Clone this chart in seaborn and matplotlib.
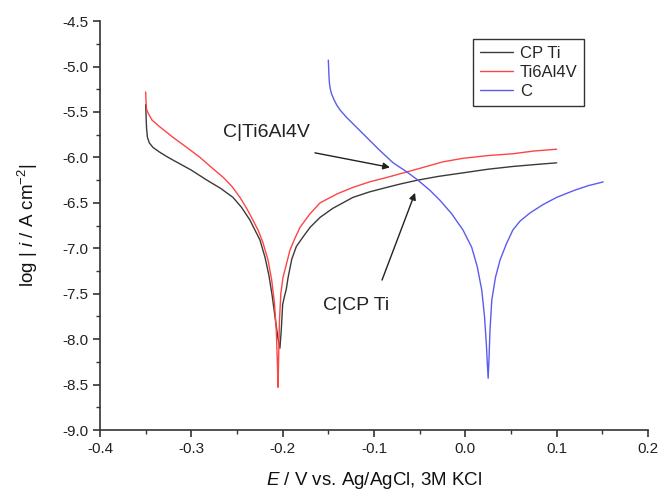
import numpy as np
import pandas as pd
import matplotlib
matplotlib.use("Agg")
import matplotlib.pyplot as plt
import seaborn as sns

# ---- data ----
cpti_E = [-0.350, -0.3495, -0.349, -0.348, -0.346, -0.342, -0.335, -0.327, -0.320,
          -0.300, -0.283, -0.268, -0.2544, -0.245, -0.2358, -0.2248, -0.2193,
          -0.215, -0.2115, -0.208, -0.205, -0.203, -0.2015, -0.200, -0.1985,
          -0.196, -0.194, -0.190, -0.185, -0.178, -0.170, -0.159, -0.145, -0.123,
          -0.105, -0.086, -0.070, -0.052, -0.030, -0.0025, 0.025, 0.052, 0.075,
          0.100]
cpti_L = [-5.42, -5.55, -5.68, -5.78, -5.84, -5.89, -5.94, -5.99, -6.03,
          -6.14, -6.25, -6.34, -6.44, -6.55, -6.69, -6.91, -7.10,
          -7.30, -7.52, -7.78, -8.00, -8.10, -7.90, -7.62, -7.55,
          -7.45, -7.32, -7.12, -6.98, -6.88, -6.77, -6.66, -6.56, -6.44,
          -6.38, -6.33, -6.29, -6.25, -6.21, -6.17, -6.13, -6.10, -6.08,
          -6.06]

ti64_E = [-0.350, -0.3495, -0.349, -0.3474, -0.343, -0.335, -0.320, -0.305, -0.2905,
          -0.278, -0.265, -0.2555, -0.2467, -0.2395, -0.2325, -0.2265, -0.2215,
          -0.216, -0.212, -0.209, -0.207, -0.2058, -0.205, -0.2044, -0.2035,
          -0.2020, -0.1996, -0.196, -0.192, -0.187, -0.181, -0.170, -0.159, -0.140,
          -0.123, -0.105, -0.0857, -0.064, -0.0496, -0.025, -0.0025, 0.025, 0.052,
          0.075, 0.100]
ti64_L = [-5.28, -5.40, -5.47, -5.51, -5.59, -5.66, -5.78, -5.89, -6.00,
          -6.11, -6.22, -6.32, -6.44, -6.56, -6.69, -6.81, -6.94,
          -7.13, -7.35, -7.60, -7.90, -8.25, -8.53, -8.20, -7.80,
          -7.50, -7.32, -7.18, -7.02, -6.90, -6.77, -6.62, -6.50, -6.40,
          -6.33, -6.27, -6.22, -6.16, -6.12, -6.05, -6.01, -5.98, -5.96,
          -5.93, -5.91]

c_E = [-0.1500, -0.1497, -0.1493, -0.1488, -0.148, -0.1465, -0.144, -0.141, -0.137,
       -0.130, -0.120, -0.108, -0.094, -0.079, -0.064, -0.052, -0.039, -0.028,
       -0.015, -0.0025, 0.007, 0.013, 0.018, 0.021, 0.023, 0.024, 0.025, 0.026,
       0.027, 0.029, 0.033, 0.038, 0.045, 0.052, 0.060, 0.071, 0.085, 0.100,
       0.120, 0.135, 0.151]
c_L = [-4.93, -5.00, -5.10, -5.18, -5.24, -5.30, -5.36, -5.42, -5.48,
       -5.56, -5.66, -5.78, -5.92, -6.06, -6.16, -6.25, -6.36, -6.47,
       -6.62, -6.80, -6.99, -7.20, -7.46, -7.75, -8.05, -8.25, -8.43, -8.20,
       -7.90, -7.57, -7.32, -7.13, -6.95, -6.80, -6.70, -6.61, -6.52, -6.44,
       -6.36, -6.31, -6.27]

series_names = ["CP Ti", "Ti6Al4V", "C"]
series_colors = ["#3a3a3a", "#ff4444", "#5b5bef"]

x_ticks = [-0.4, -0.3, -0.2, -0.1, 0.0, 0.1, 0.2]
y_ticks = [-9.0, -8.5, -8.0, -7.5, -7.0, -6.5, -6.0, -5.5, -5.0, -4.5]

# annotation texts, anchor points and arrow ends (data units)
ann_texts = ["C|Ti6Al4V", "C|CP Ti"]
ann_text_xy = [(-0.218, -5.73), (-0.12, -7.63)]
ann_tail_xy = [(-0.1646, -5.95), (-0.0912, -7.35)]
ann_head_xy = [(-0.0825, -6.11), (-0.055, -6.39)]

# ---- build table ----
frames = []
for name, E, L in zip(series_names, [cpti_E, ti64_E, c_E], [cpti_L, ti64_L, c_L]):
    frames.append(pd.DataFrame({"E": E, "logi": L, "series": name}))
df = pd.concat(frames, ignore_index=True)

sns.set_theme(style="ticks")
plt.rcParams["font.family"] = ["Liberation Sans", "DejaVu Sans"]
plt.rcParams["axes.unicode_minus"] = False
plt.rcParams["mathtext.fontset"] = "custom"
plt.rcParams["mathtext.rm"] = "Liberation Sans"
plt.rcParams["mathtext.it"] = "Liberation Sans:italic"
plt.rcParams["mathtext.default"] = "regular"

fig, ax = plt.subplots(figsize=(6.59, 4.90), dpi=100)
fig.subplots_adjust(left=0.1517, right=0.9833, bottom=0.1224, top=0.957)

sns.lineplot(data=df, x="E", y="logi", hue="series", hue_order=series_names,
             palette=dict(zip(series_names, series_colors)), sort=False,
             estimator=None, units="series", linewidth=1.0, ax=ax)

ax.set_xlim(-0.4, 0.2)
ax.set_ylim(-9.0, -4.5)
ax.set_xticks(x_ticks)
ax.set_yticks(y_ticks)
ax.set_xticklabels([f"{v:.1f}" for v in x_ticks])
ax.set_yticklabels([f"{v:.1f}" for v in y_ticks])
ax.set_xticks(np.arange(-0.35, 0.2, 0.1), minor=True)
ax.set_yticks(np.arange(-8.75, -4.5, 0.5), minor=True)

for s in ["top", "right"]:
    ax.spines[s].set_visible(False)
for s in ["left", "bottom"]:
    ax.spines[s].set_color("#333333")
    ax.spines[s].set_linewidth(1.2)
ax.tick_params(which="major", direction="out", length=5, width=1.2,
               color="#333333", labelsize=11, labelcolor="#222222")
ax.tick_params(which="minor", direction="out", length=3, width=1.0,
               color="#333333")

ax.set_xlabel(r"$\mathit{E}$ / V vs. Ag/AgCl, 3M KCl", fontsize=13.5,
              labelpad=10, color="#111111")
ax.set_ylabel(r"log | $\mathit{i}$ / A cm$^{-2}$|", fontsize=13.5,
              labelpad=16, color="#111111")

for txt, txy, tail, head in zip(ann_texts, ann_text_xy, ann_tail_xy, ann_head_xy):
    ax.text(txy[0], txy[1], txt, ha="center", va="center", fontsize=14,
            color="#222222")
    ax.annotate("", xy=head, xytext=tail,
                arrowprops=dict(arrowstyle="-|>", color="#222222", lw=1.0,
                                mutation_scale=10, shrinkA=0, shrinkB=0))

handles, labels = ax.get_legend_handles_labels()
leg = ax.legend(handles, labels, loc="upper left", bbox_to_anchor=(0.681, 0.956),
                fontsize=12, frameon=True, fancybox=False, edgecolor="#333333",
                framealpha=1, handlelength=2.0, handletextpad=0.4,
                labelspacing=0.25, borderpad=0.4, borderaxespad=0)
leg.get_frame().set_linewidth(1.0)

fig.savefig("out.png", dpi=100)
